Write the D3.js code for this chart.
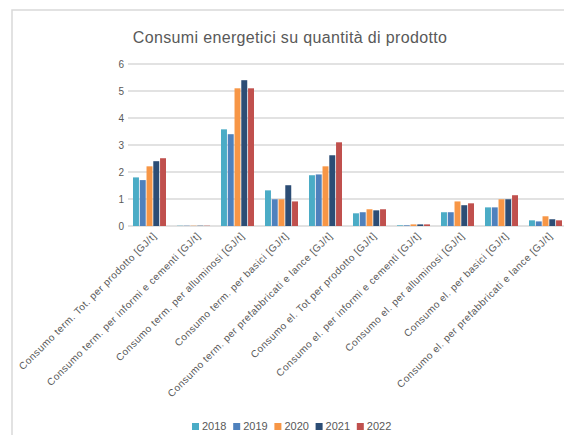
<!DOCTYPE html>
<html>
<head>
<meta charset="utf-8">
<script src="https://cdn.jsdelivr.net/npm/d3@7"></script>
<style>
  body { margin: 0; background: #fff; }
  text { font-family: "Liberation Sans", Arial, sans-serif; fill: #595959; }
</style>
</head>
<body>
<script>
/*chart data*/
var categories = [
  "Consumo term. Tot. per prodotto [GJ/t]",
  "Consumo term. per informi e cementi [GJ/t]",
  "Consumo term. per alluminosi [GJ/t]",
  "Consumo term. per basici [GJ/t]",
  "Consumo term. per prefabbricati e lance [GJ/t]",
  "Consumo el. Tot per prodotto [GJ/t]",
  "Consumo el. per informi e cementi [GJ/t]",
  "Consumo el. per alluminosi [GJ/t]",
  "Consumo el. per basici [GJ/t]",
  "Consumo el. per prefabbricati e lance [GJ/t]"
];
var years = ["2018", "2019", "2020", "2021", "2022"];
var colors = ["#4BACC6", "#4F81BD", "#F79646", "#2C4D75", "#C0504D"];
var v2018 = [1.8, 0.01, 3.58, 1.32, 1.88, 0.47, 0.025, 0.51, 0.69, 0.21];
var v2019 = [1.7, 0.01, 3.4, 0.99, 1.91, 0.51, 0.025, 0.51, 0.69, 0.17];
var v2020 = [2.21, 0.01, 5.1, 0.99, 2.21, 0.62, 0.06, 0.91, 0.99, 0.36];
var v2021 = [2.4, 0.01, 5.4, 1.51, 2.62, 0.58, 0.06, 0.77, 0.99, 0.25];
var v2022 = [2.51, 0.01, 5.1, 0.91, 3.1, 0.62, 0.06, 0.84, 1.14, 0.21];
var yTicks = [0, 1, 2, 3, 4, 5, 6];

var series = [v2018, v2019, v2020, v2021, v2022];

var svgWidth = 564, svgHeight = 435;
var svg = d3.select("body").append("svg")
  .attr("width", svgWidth)
  .attr("height", svgHeight);

/*outer chart frame, runs off the right and bottom edges*/
svg.append("rect")
  .attr("x", 12).attr("y", 10)
  .attr("width", 600).attr("height", 500)
  .attr("fill", "none")
  .attr("stroke", "#d9d9d9")
  .attr("stroke-width", 1.5);

/*title*/
svg.append("text")
  .attr("x", 290).attr("y", 43)
  .attr("text-anchor", "middle")
  .style("font-size", "16px")
  .style("letter-spacing", "0.35px")
  .text("Consumi energetici su quantità di prodotto");

/*scales*/
var x = d3.scaleBand().domain(categories).range([127.5, 567.5]);
var xInner = d3.scaleBand().domain(years).range([5.5, 38.5]).paddingInner(0.12);
var y = d3.scaleLinear().domain([0, 6]).range([226, 64]);

/*gridlines*/
svg.append("g").selectAll("line")
  .data(yTicks)
  .enter().append("line")
  .attr("x1", 128).attr("x2", 564)
  .attr("y1", d => y(d)).attr("y2", d => y(d))
  .attr("stroke", "#d9d9d9")
  .attr("stroke-width", 1.3);

/*y axis labels*/
svg.append("g").selectAll("text")
  .data(yTicks)
  .enter().append("text")
  .attr("x", 124)
  .attr("y", d => y(d))
  .attr("dy", "0.35em")
  .attr("text-anchor", "end")
  .style("font-size", "10px")
  .text(d => d);

/*bars*/
var groups = svg.append("g").selectAll("g")
  .data(categories)
  .enter().append("g")
  .attr("transform", d => `translate(${x(d)},0)`);

groups.selectAll("rect")
  .data((c, i) => years.map((yr, j) => ({year: yr, value: series[j][i], color: colors[j]})))
  .enter().append("rect")
  .attr("x", d => xInner(d.year))
  .attr("width", xInner.bandwidth())
  .attr("y", d => y(d.value))
  .attr("height", d => y(0) - y(d.value))
  .attr("fill", d => d.color);

/*category labels, rotated*/
svg.append("g").selectAll("text")
  .data(categories)
  .enter().append("text")
  .attr("transform", d => `translate(${x(d) + x.bandwidth() / 2 + 4}, 233) rotate(-45)`)
  .attr("text-anchor", "end")
  .attr("dy", "0.5em")
  .style("font-size", "10px")
  .style("letter-spacing", "0.5px")
  .text(d => d);

/*legend*/
var legend = svg.append("g").attr("transform", "translate(192, 423)");
var item = legend.selectAll("g")
  .data(years)
  .enter().append("g")
  .attr("transform", (d, i) => `translate(${i * 41.2}, 0)`);
item.append("rect")
  .attr("width", 7).attr("height", 7)
  .attr("fill", (d, i) => colors[i]);
item.append("text")
  .attr("x", 10).attr("y", 7)
  .style("font-size", "11px")
  .text(d => d);
</script>
</body>
</html>
